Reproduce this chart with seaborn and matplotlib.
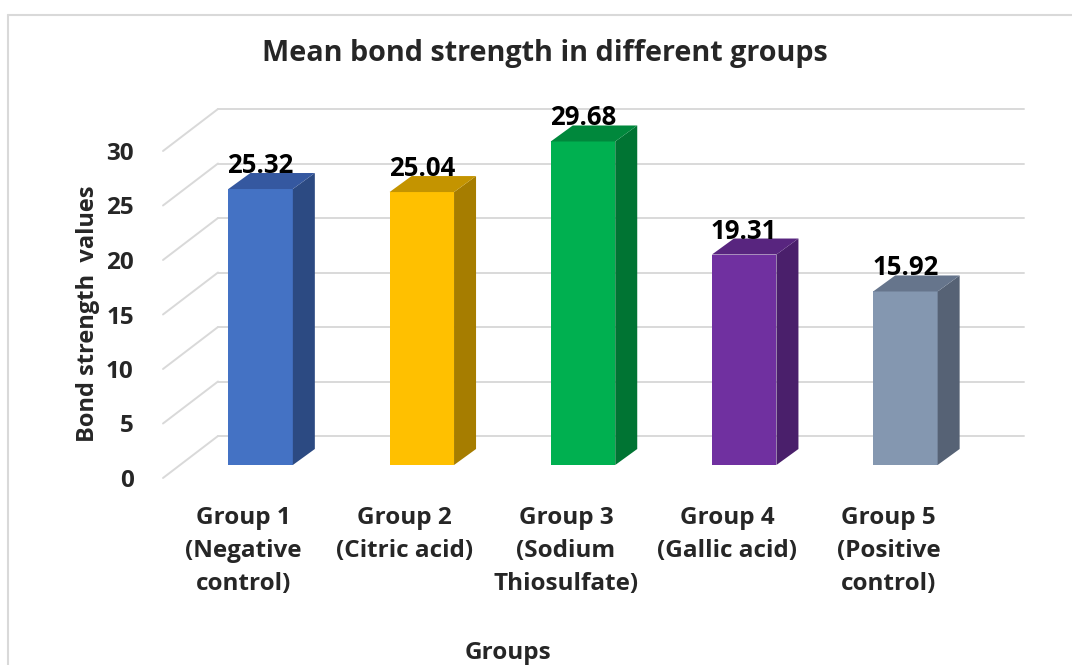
import seaborn as sns
import pandas as pd
import matplotlib.pyplot as plt
import matplotlib.transforms as mtransforms
from matplotlib.patches import Polygon
from matplotlib.lines import Line2D

# data
groups = ["Group 1\n(Negative\ncontrol)", "Group 2\n(Citric acid)", "Group 3\n(Sodium\nThiosulfate)",
          "Group 4\n(Gallic acid)", "Group 5\n(Positive\ncontrol)"]
values = [25.32, 25.04, 29.68, 19.31, 15.92]
front_colors = ["#4472C4", "#FFC000", "#00B050", "#7030A0", "#8497B0"]
side_colors = ["#2C4A82", "#A67D00", "#007433", "#4A1F6B", "#566275"]
top_colors = ["#3558A0", "#C49400", "#00883C", "#58257F", "#66758C"]
yticks = [0, 5, 10, 15, 20, 25, 30]

sns.set_style("white")
plt.rcParams['font.family'] = ['Open Sans', 'DejaVu Sans']
plt.rcParams['font.weight'] = 'bold'

W, H = 1072, 665
fig = plt.figure(figsize=(W / 100, H / 100), dpi=100)
# axes = plane of the bars' front faces
ax_l, ax_r, ax_b, ax_t = 180, 986, 465, 138
ax = fig.add_axes([ax_l / W, 1 - ax_b / H, (ax_r - ax_l) / W, (ax_b - ax_t) / H])

df = pd.DataFrame({"group": groups, "value": values})
sns.barplot(data=df, x="group", y="value", hue="group", palette=front_colors,
            width=0.4, saturation=1, legend=False, ax=ax, zorder=3, linewidth=0)
ax.set_xlim(-0.5, 4.5)
ax.set_ylim(0, 30)
for s in ax.spines.values():
    s.set_visible(False)

sx = (ax_r - ax_l) / 5.0   # px per x unit
sy = (ax_b - ax_t) / 30.0  # px per y unit

# 3d offsets in px
bar_dx, bar_dy = 22, 16
back_dx, back_dy = 38, 29
front_dx, front_dy = -17, -13

# walls: gridlines
grid_c = "#D9D9D9"
for v in yticks:
    yb = v + back_dy / sy
    ax.plot([-0.5 + back_dx / sx, 4.5 + back_dx / sx], [yb, yb], color=grid_c, lw=1.4,
            clip_on=False, zorder=1)
    ax.plot([-0.5 + front_dx / sx, -0.5 + back_dx / sx], [v + front_dy / sy, yb],
            color=grid_c, lw=1.4, clip_on=False, zorder=1)

# side and top faces of the bars + value labels
ddx, ddy = bar_dx / sx, bar_dy / sy
for i, p in enumerate(ax.patches):
    x0 = p.get_x()
    x1 = x0 + p.get_width()
    h = p.get_height()
    side = Polygon([(x1, 0), (x1 + ddx, ddy), (x1 + ddx, h + ddy), (x1, h)],
                   closed=True, facecolor=side_colors[i], edgecolor="none", zorder=3, clip_on=False)
    top = Polygon([(x0, h), (x1, h), (x1 + ddx, h + ddy), (x0 + ddx, h + ddy)],
                  closed=True, facecolor=top_colors[i], edgecolor="none", zorder=3, clip_on=False)
    ax.add_patch(side)
    ax.add_patch(top)
    ax.text(x0 + p.get_width() / 2, h + ddy - 6 / sy, f"{values[i]:.2f}", ha="center", va="bottom",
            fontsize=18.5, fontweight="bold", color="black", zorder=5, clip_on=False)

# tick labels sit on the front plane
ax.set_yticks(yticks)
ax.set_yticklabels([str(t) for t in yticks], fontsize=17.5, fontweight="bold")
ax.tick_params(axis="y", length=0, pad=21)
ax.tick_params(axis="x", length=0, pad=20)
ax.set_xticks(range(5))
ax.set_xticklabels(groups, fontsize=17.5, fontweight="bold", linespacing=1.5)
shift = mtransforms.ScaledTranslation(front_dx / 100, front_dy / 100, fig.dpi_scale_trans)
for lab in ax.get_yticklabels() + ax.get_xticklabels():
    lab.set_transform(lab.get_transform() + shift)
ax.set_xlabel("")
ax.set_ylabel("")

fig.text(545 / W, 1 - 53 / H, "Mean bond strength in different groups", ha="center", va="center",
         fontsize=20.7, fontweight="bold")
fig.text(88 / W, 1 - 314 / H, "Bond strength  values", rotation=90, ha="center", va="center",
         fontsize=17, fontweight="bold")
fig.text(508 / W, 1 - 653 / H, "Groups", ha="center", va="center", fontsize=17.5, fontweight="bold")

# chart border
fig.add_artist(Line2D([8 / W, 1], [1 - 15 / H, 1 - 15 / H], color=grid_c, lw=1.5))
fig.add_artist(Line2D([8 / W, 8 / W], [0, 1 - 15 / H], color=grid_c, lw=1.5))

fig.savefig("out.png", dpi=100)
